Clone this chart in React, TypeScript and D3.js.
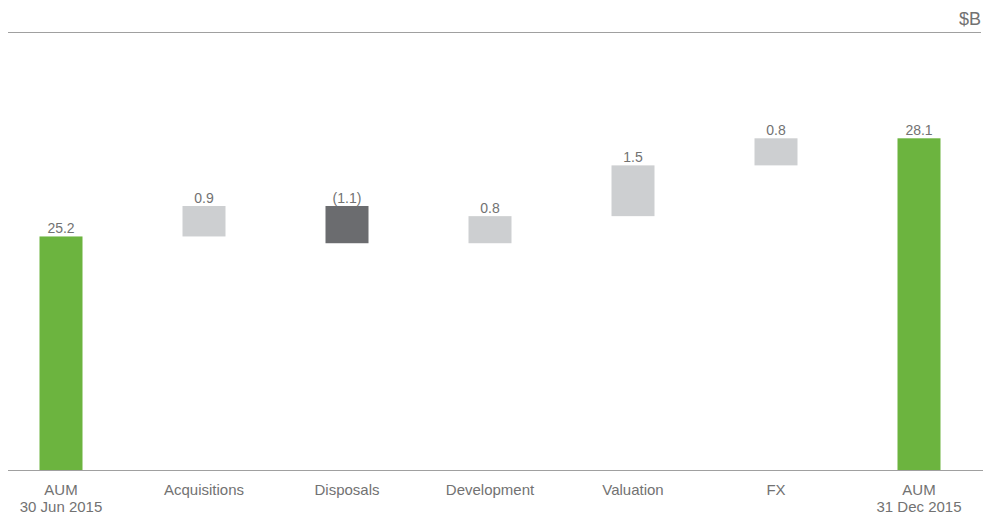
import React from "react";
import * as d3 from "d3";

// Assets under management bridge, $B
const categoryLines: string[][] = [
  ["AUM", "30 Jun 2015"],
  ["Acquisitions"],
  ["Disposals"],
  ["Development"],
  ["Valuation"],
  ["FX"],
  ["AUM", "31 Dec 2015"],
];
const values: number[] = [25.2, 0.9, -1.1, 0.8, 1.5, 0.8, 28.1];
const kinds: ("total" | "change")[] = ["total", "change", "change", "change", "change", "change", "total"];
const unitLabel = "$B";

const W = 983;
const H = 515;
const GREEN = "#6cb43f";
const LIGHT = "#cdcfd1";
const DARK = "#6b6c6f";
const TEXT = "#727272";
const RULE = "#a0a0a0";
const FONT = "'Liberation Sans', Arial, Helvetica, sans-serif";

const fmt = (v: number) => (v < 0 ? `(${Math.abs(v).toFixed(1)})` : v.toFixed(1));

export default function App() {
  const baseY = 470;
  const yMin = 18.3;
  const y = d3.scaleLinear().domain([yMin, 28.1]).range([baseY, 138.3]);
  const keys = categoryLines.map((l) => l.join(" "));
  const x = d3.scalePoint<string>().domain(keys).range([61, 919]);
  const barW = 43;

  // running totals for the floating steps
  let running = 0;
  const bars = values.map((v, i) => {
    let lo: number, hi: number;
    if (kinds[i] === "total") {
      lo = yMin;
      hi = v;
      running = v;
    } else {
      const start = running;
      running = start + v;
      lo = Math.min(start, running);
      hi = Math.max(start, running);
    }
    const fill = kinds[i] === "total" ? GREEN : v < 0 ? DARK : LIGHT;
    return { key: keys[i], v, lo, hi, fill };
  });

  return (
    <svg
      width={W}
      height={H}
      style={{ position: "absolute", left: 0, top: 0, display: "block", background: "#fff" }}
      fontFamily={FONT}
    >
      <line x1={8} x2={981} y1={32.5} y2={32.5} stroke={RULE} strokeWidth={1} />
      <text x={981} y={25} textAnchor="end" fontSize={18} fill={TEXT}>
        {unitLabel}
      </text>

      {bars.map((b) => {
        const cx = x(b.key)!;
        const top = y(b.hi);
        const bottom = y(b.lo);
        return (
          <g key={b.key}>
            <rect x={cx - barW / 2} y={top} width={barW} height={bottom - top} fill={b.fill} />
            <text x={cx} y={top - 3} textAnchor="middle" fontSize={14} fill={TEXT}>
              {fmt(b.v)}
            </text>
          </g>
        );
      })}

      <line x1={8} x2={983} y1={baseY + 0.5} y2={baseY + 0.5} stroke={RULE} strokeWidth={1} />

      {categoryLines.map((lines, i) => (
        <text key={keys[i]} x={x(keys[i])!} y={495} textAnchor="middle" fontSize={15} fill={TEXT}>
          {lines.map((ln, j) => (
            <tspan key={j} x={x(keys[i])!} dy={j === 0 ? 0 : 17}>
              {ln}
            </tspan>
          ))}
        </text>
      ))}
    </svg>
  );
}
